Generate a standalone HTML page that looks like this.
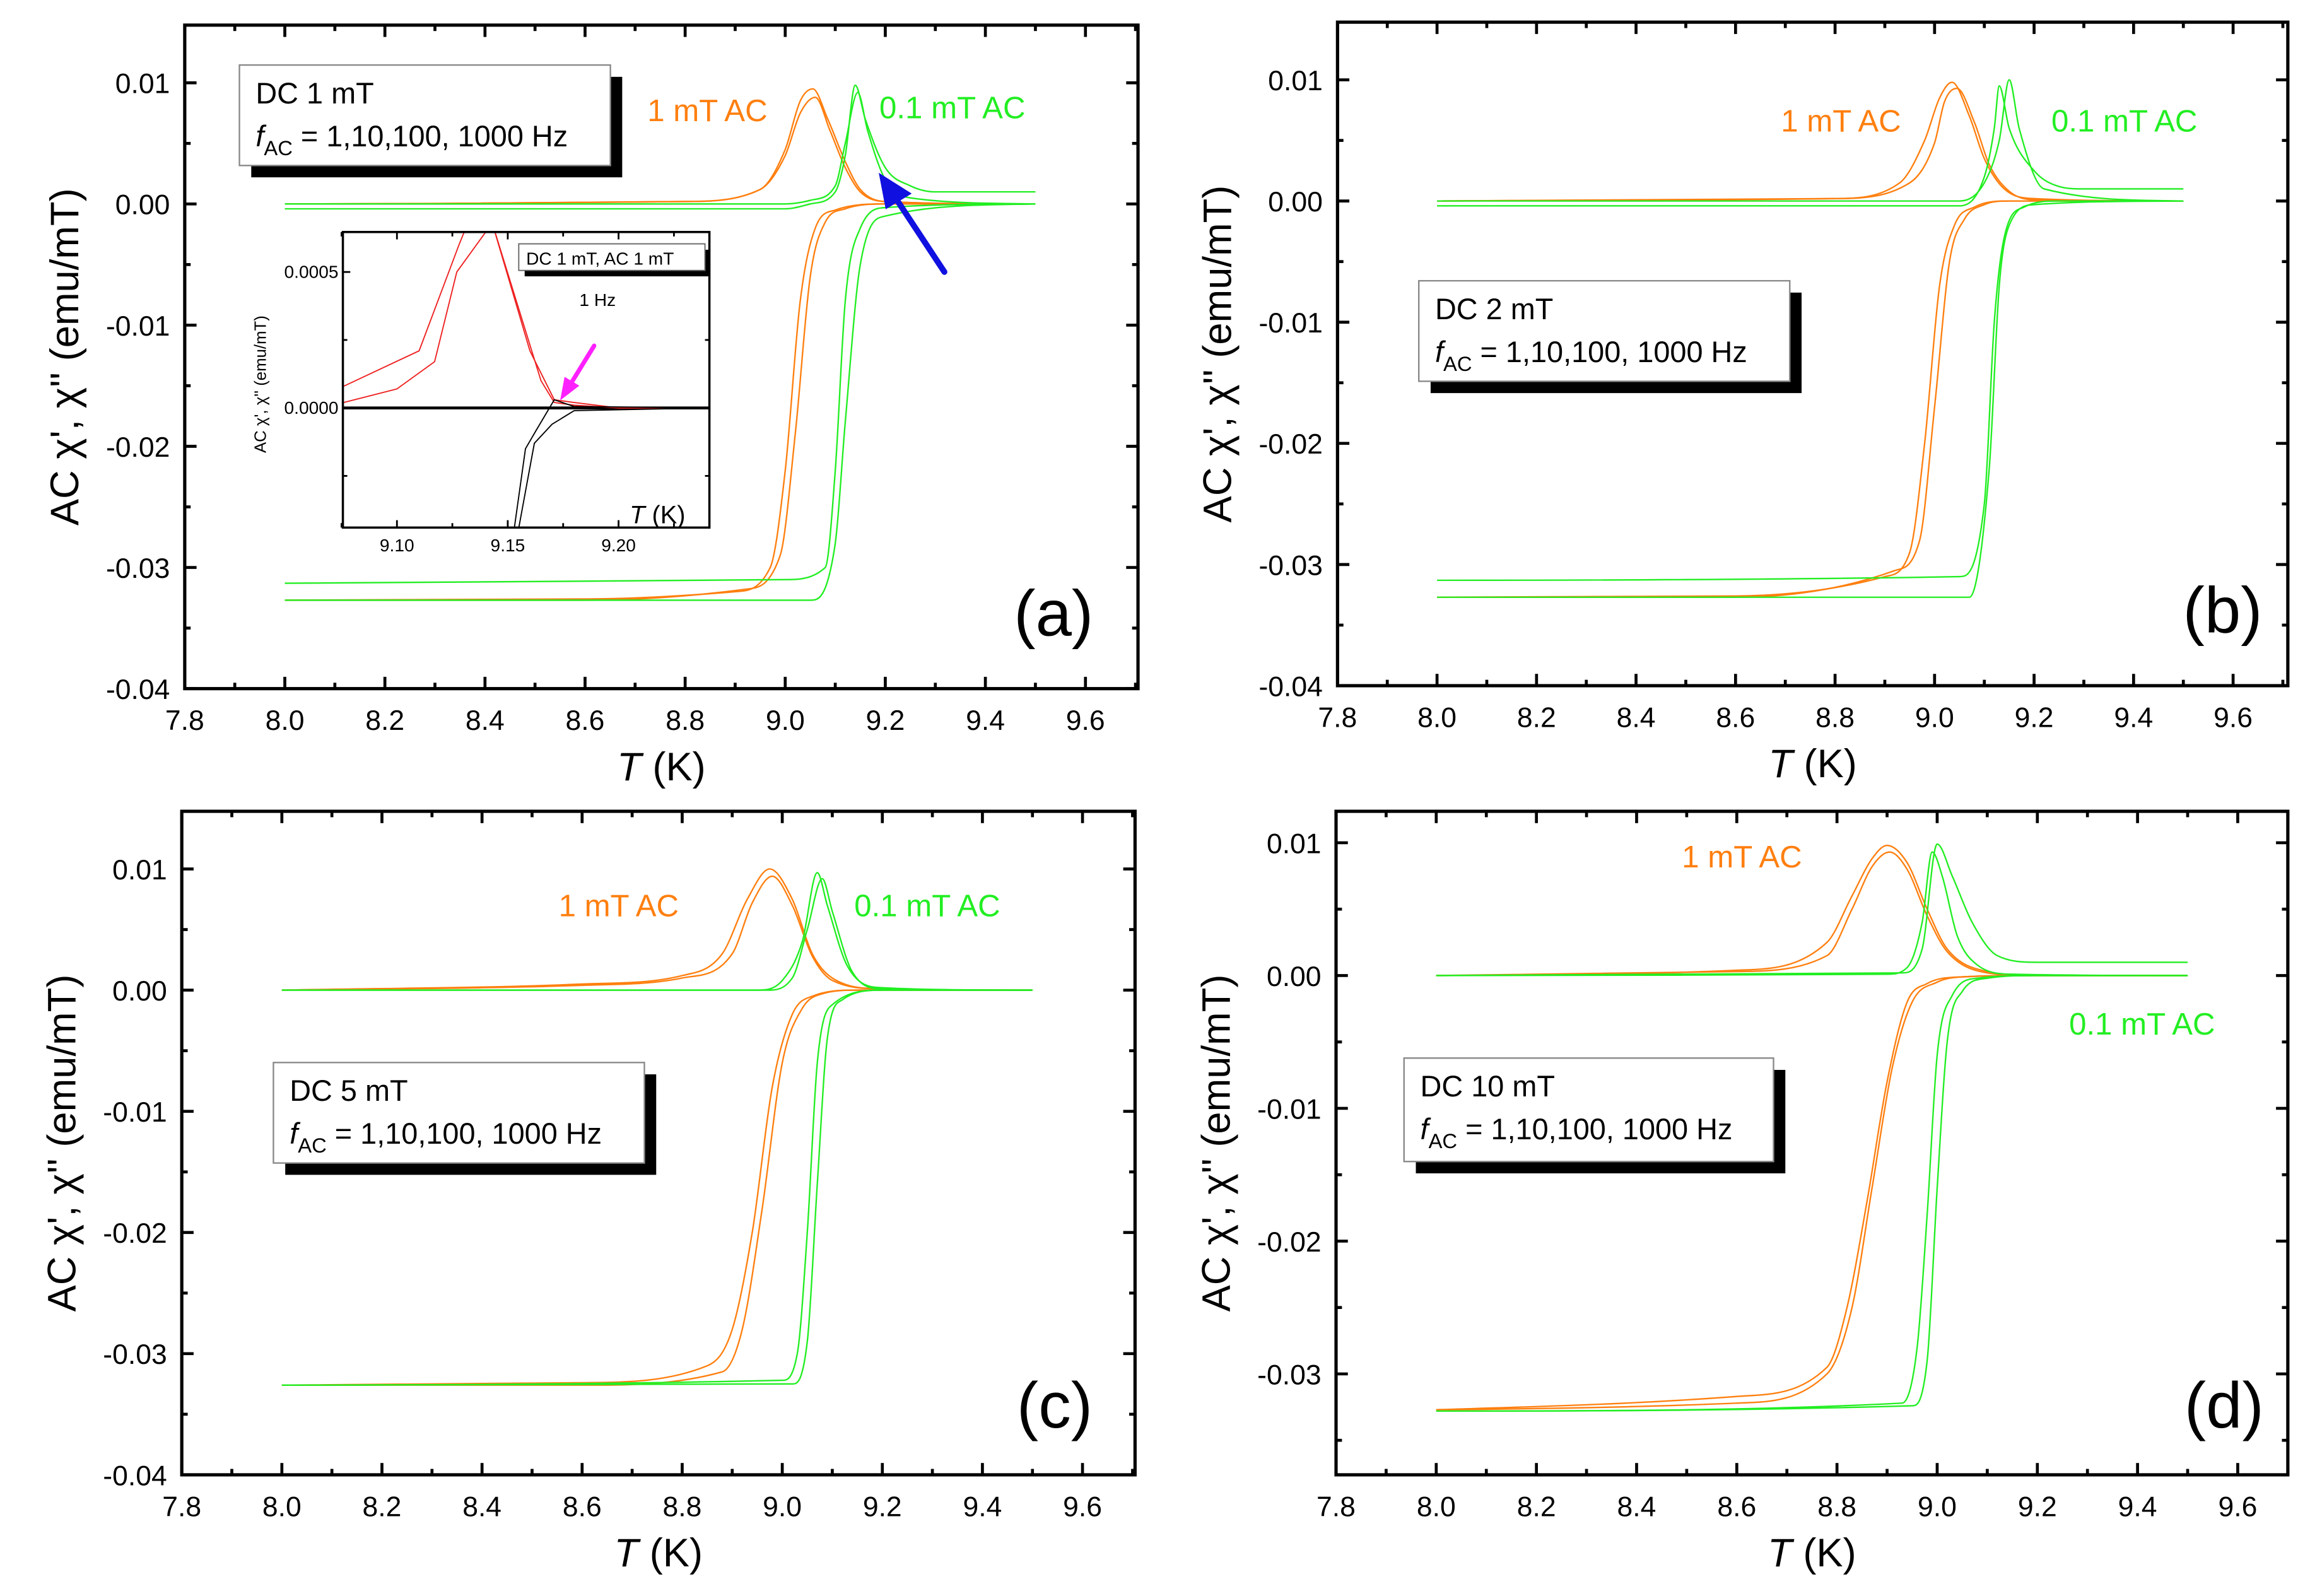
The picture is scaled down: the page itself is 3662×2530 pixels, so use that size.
<!DOCTYPE html>
<html><head><meta charset="utf-8"><style>
html,body{margin:0;padding:0;background:#fff}
svg{display:block}
text{font-family:"Liberation Sans",Arial,sans-serif}
</style></head><body>
<svg id="fig" width="3662" height="2530" viewBox="0 0 1563 1080" preserveAspectRatio="none" xmlns="http://www.w3.org/2000/svg"></svg>
<script>
// ---------- data ----------
const a_op_T1=[8.0,8.8,8.95,9.0,9.03,9.06,9.09,9.12,9.15,9.2,9.5];
const a_op_Y1=[0,0.0002,0.0012,0.004,0.0075,0.0088,0.006,0.003,0.001,0.0002,0];
const a_op_T2=[8.0,8.8,8.95,9.0,9.03,9.055,9.085,9.12,9.15,9.2,9.5];
const a_op_Y2=[0,0.0002,0.0012,0.0045,0.0085,0.0095,0.007,0.0035,0.0012,0.0002,0];
const a_gp_T1=[8.0,9.0,9.05,9.1,9.12,9.14,9.16,9.2,9.25,9.3,9.5];
const a_gp_Y1=[-0.0004,-0.0004,0.0,0.001,0.004,0.0098,0.007,0.003,0.0015,0.001,0.001];
const a_gp_T2=[8.0,9.0,9.05,9.1,9.12,9.145,9.165,9.2,9.25,9.5];
const a_gp_Y2=[0,0,0.0003,0.0015,0.005,0.0092,0.006,0.002,0.0005,0];
const a_os_T1=[8.0,8.6,8.9,8.97,9.0,9.03,9.06,9.1,9.2,9.5];
const a_os_Y1=[-0.0327,-0.0326,-0.032,-0.030,-0.022,-0.008,-0.002,-0.0005,0,0];
const a_os_T2=[8.0,8.6,8.92,8.99,9.02,9.05,9.08,9.12,9.2,9.5];
const a_os_Y2=[-0.0327,-0.0327,-0.0318,-0.029,-0.019,-0.006,-0.0015,-0.0004,0,0];
const a_gs_T1=[8.0,9.0,9.08,9.1,9.12,9.15,9.2,9.5];
const a_gs_Y1=[-0.0313,-0.031,-0.030,-0.022,-0.008,-0.002,-0.0003,0];
const a_gs_T2=[8.0,9.05,9.1,9.12,9.15,9.2,9.5];
const a_gs_Y2=[-0.0327,-0.0327,-0.028,-0.018,-0.005,-0.001,0];
const b_op_T1=[8.0,8.8,8.93,8.98,9.01,9.035,9.07,9.1,9.14,9.2,9.5];
const b_op_Y1=[0,0.0002,0.0015,0.005,0.0085,0.0098,0.007,0.0035,0.001,0.0002,0];
const b_op_T2=[8.0,8.8,8.95,9.0,9.02,9.045,9.08,9.11,9.15,9.2,9.5];
const b_op_Y2=[0,0.0002,0.0015,0.0048,0.0082,0.0093,0.0065,0.003,0.0008,0.0001,0];
const b_gp_T1=[8.0,9.05,9.1,9.12,9.13,9.15,9.2,9.25,9.3,9.5];
const b_gp_Y1=[-0.0004,-0.0004,0.002,0.006,0.0095,0.006,0.0025,0.0012,0.001,0.001];
const b_gp_T2=[8.0,9.05,9.1,9.13,9.15,9.17,9.22,9.5];
const b_gp_Y2=[0,0,0.0015,0.005,0.0100,0.006,0.001,0];
const b_os_T1=[8.0,8.6,8.9,8.95,8.98,9.01,9.04,9.08,9.15,9.5];
const b_os_Y1=[-0.0327,-0.0326,-0.031,-0.029,-0.020,-0.007,-0.002,-0.0005,0,0];
const b_os_T2=[8.0,8.6,8.92,8.97,9.0,9.03,9.06,9.1,9.15,9.5];
const b_os_Y2=[-0.0327,-0.0327,-0.0305,-0.028,-0.017,-0.005,-0.0015,-0.0003,0,0];
const b_gs_T1=[8.0,9.05,9.1,9.12,9.14,9.18,9.25,9.5];
const b_gs_Y1=[-0.0313,-0.031,-0.025,-0.010,-0.003,-0.0005,0,0];
const b_gs_T2=[8.0,9.07,9.11,9.13,9.15,9.2,9.5];
const b_gs_Y2=[-0.0327,-0.0327,-0.022,-0.007,-0.002,-0.0003,0];
const c_op_T1=[8.0,8.6,8.8,8.88,8.93,8.975,9.02,9.06,9.1,9.2,9.5];
const c_op_Y1=[0,0.0005,0.0012,0.003,0.0075,0.0100,0.0075,0.003,0.001,0.0001,0];
const c_op_T2=[8.0,8.6,8.8,8.9,8.94,8.98,9.02,9.06,9.1,9.2,9.5];
const c_op_Y2=[0,0.0004,0.001,0.003,0.0072,0.0094,0.007,0.0028,0.0008,0.0001,0];
const c_gp_T1=[8.0,8.95,9.0,9.04,9.07,9.09,9.13,9.2,9.5];
const c_gp_Y1=[0,0,0.0008,0.004,0.0097,0.007,0.002,0.0002,0];
const c_gp_T2=[8.0,8.97,9.02,9.05,9.08,9.1,9.14,9.2,9.5];
const c_gp_Y2=[0,0,0.001,0.005,0.0092,0.0065,0.0015,0.0001,0];
const c_os_T1=[8.0,8.6,8.85,8.9,8.94,8.98,9.02,9.06,9.15,9.5];
const c_os_Y1=[-0.0326,-0.0324,-0.031,-0.028,-0.020,-0.008,-0.002,-0.0005,0,0];
const c_os_T2=[8.0,8.6,8.88,8.92,8.96,9.0,9.04,9.08,9.15,9.5];
const c_os_Y2=[-0.0326,-0.0326,-0.0315,-0.028,-0.018,-0.006,-0.0015,-0.0003,0,0];
const c_gs_T1=[8.0,9.0,9.03,9.05,9.07,9.1,9.2,9.5];
const c_gs_Y1=[-0.0326,-0.0322,-0.030,-0.020,-0.006,-0.0012,0,0];
const c_gs_T2=[8.0,9.02,9.05,9.07,9.09,9.12,9.2,9.5];
const c_gs_Y2=[-0.0326,-0.0325,-0.029,-0.016,-0.004,-0.0008,0,0];
const d_op_T1=[8.0,8.6,8.78,8.83,8.87,8.9,8.94,8.98,9.02,9.1,9.2,9.5];
const d_op_Y1=[0,0.0004,0.0025,0.006,0.0088,0.0098,0.0085,0.005,0.002,0.0003,0,0];
const d_op_T2=[8.0,8.6,8.78,8.83,8.87,8.905,8.94,8.98,9.02,9.1,9.2,9.5];
const d_op_Y2=[0,0.0003,0.0015,0.005,0.0082,0.0093,0.008,0.0045,0.0018,0.0002,0,0];
const d_gp_T1=[8.0,8.9,8.94,8.97,8.99,9.01,9.04,9.08,9.15,9.5];
const d_gp_Y1=[0,0.0001,0.0006,0.004,0.0093,0.0075,0.003,0.0008,0.0001,0];
const d_gp_T2=[8.0,8.93,8.97,9.0,9.03,9.07,9.12,9.2,9.5];
const d_gp_Y2=[0,0.0002,0.002,0.0099,0.0075,0.004,0.0015,0.001,0.001];
const d_os_T1=[8.0,8.6,8.78,8.82,8.86,8.9,8.94,8.98,9.05,9.2,9.5];
const d_os_Y1=[-0.0327,-0.0317,-0.0295,-0.025,-0.017,-0.008,-0.002,-0.0006,-0.0001,0,0];
const d_os_T2=[8.0,8.6,8.78,8.83,8.87,8.91,8.95,9.0,9.05,9.2,9.5];
const d_os_Y2=[-0.0327,-0.0322,-0.030,-0.025,-0.016,-0.007,-0.002,-0.0005,-0.0001,0,0];
const d_gs_T1=[8.0,8.93,8.96,8.98,9.0,9.03,9.08,9.2,9.5];
const d_gs_Y1=[-0.0328,-0.0322,-0.028,-0.018,-0.006,-0.0015,-0.0002,0,0];
const d_gs_T2=[8.0,8.95,8.98,9.0,9.02,9.05,9.1,9.2,9.5];
const d_gs_Y2=[-0.0328,-0.0324,-0.029,-0.016,-0.005,-0.0012,-0.0002,0,0];
const in_r_T1=[9.076,9.1,9.117,9.127,9.143,9.16,9.171,9.18,9.2,9.24];
const in_r_Y1=[0.00002,0.00007,0.00017,0.0005,0.00068,0.00021,0.00003,0.00002,0.0,0];
const in_r_T2=[9.076,9.11,9.128,9.138,9.143,9.165,9.171,9.18,9.2,9.24];
const in_r_Y2=[0.00008,0.00021,0.0006,0.0008,0.00068,0.0001,0.00002,0.00001,0,0];
const in_k_T1=[9.153,9.158,9.163,9.171,9.18,9.24];
const in_k_Y1=[-0.00044,-0.00015,-0.00008,0.00003,0.000005,0];
const in_k_T2=[9.155,9.162,9.17,9.18,9.24];
const in_k_Y2=[-0.00044,-0.00013,-0.00006,-0.00001,0];
const xTicks=[7.8,8.0,8.2,8.4,8.6,8.8,9.0,9.2,9.4,9.6];
const xTickLabels=["7.8","8.0","8.2","8.4","8.6","8.8","9.0","9.2","9.4","9.6"];
const yTicks=[0.01,0.0,-0.01,-0.02,-0.03,-0.04];
const yTickLabels=["0.01","0.00","-0.01","-0.02","-0.03","-0.04"];
const inXTicks=[9.10,9.15,9.20];
const inXLabels=["9.10","9.15","9.20"];
const inYTicks=[0.0005,0.0];
const inYLabels=["0.0005","0.0000"];

// ---------- drawing ----------
const NS="http://www.w3.org/2000/svg";
const svg=document.getElementById('fig');
function el(tag,attrs,parent,txt){const e=document.createElementNS(NS,tag);for(const k in attrs)e.setAttribute(k,attrs[k]);if(txt!==undefined)e.textContent=txt;(parent||svg).appendChild(e);return e;}
const OR="#ff7f0f",GR="#22ee22";
const panels=[
 {id:'a',L:125,R:770,T:17,B:466,x0:7.8,x1:9.705,y0:-0.04,y1:0.01476,tag:"(a)",tagX:686,tagY:430,
  box:[162,44,251,68],dc:"DC 1 mT",o:[438,82],g:[595,80]},
 {id:'b',L:905,R:1548,T:15,B:464,x0:7.8,x1:9.71,y0:-0.04,y1:0.01476,tag:"(b)",tagX:1477,tagY:428,
  box:[960,190,251,68],dc:"DC 2 mT",o:[1205,89],g:[1388,89]},
 {id:'c',L:123,R:768,T:549,B:998,x0:7.8,x1:9.705,y0:-0.04,y1:0.01476,tag:"(c)",tagX:688,tagY:966,
  box:[185,719,251,68],dc:"DC 5 mT",o:[378,620],g:[578,620]},
 {id:'d',L:904,R:1548,T:549,B:998,x0:7.8,x1:9.70,y0:-0.0376,y1:0.01237,tag:"(d)",tagX:1478,tagY:966,
  box:[950,716,250,70],dc:"DC 10 mT",o:[1138,587],g:[1400,700]}
];
const series={
 a:[[a_op_T1,a_op_Y1,OR],[a_op_T2,a_op_Y2,OR],[a_os_T1,a_os_Y1,OR],[a_os_T2,a_os_Y2,OR],[a_gp_T1,a_gp_Y1,GR],[a_gp_T2,a_gp_Y2,GR],[a_gs_T1,a_gs_Y1,GR],[a_gs_T2,a_gs_Y2,GR]],
 b:[[b_op_T1,b_op_Y1,OR],[b_op_T2,b_op_Y2,OR],[b_os_T1,b_os_Y1,OR],[b_os_T2,b_os_Y2,OR],[b_gp_T1,b_gp_Y1,GR],[b_gp_T2,b_gp_Y2,GR],[b_gs_T1,b_gs_Y1,GR],[b_gs_T2,b_gs_Y2,GR]],
 c:[[c_op_T1,c_op_Y1,OR],[c_op_T2,c_op_Y2,OR],[c_os_T1,c_os_Y1,OR],[c_os_T2,c_os_Y2,OR],[c_gp_T1,c_gp_Y1,GR],[c_gp_T2,c_gp_Y2,GR],[c_gs_T1,c_gs_Y1,GR],[c_gs_T2,c_gs_Y2,GR]],
 d:[[d_op_T1,d_op_Y1,OR],[d_op_T2,d_op_Y2,OR],[d_os_T1,d_os_Y1,OR],[d_os_T2,d_os_Y2,OR],[d_gp_T1,d_gp_Y1,GR],[d_gp_T2,d_gp_Y2,GR],[d_gs_T1,d_gs_Y1,GR],[d_gs_T2,d_gs_Y2,GR]]
};
function pathFrom(T,Y,sx,sy){return T.map((t,i)=>(i?'L':'M')+sx(t).toFixed(2)+','+sy(Y[i]).toFixed(2)).join(' ');}
// monotone cubic (Fritsch-Carlson) smooth path
function smoothPath(T,Y,sx,sy){
 const X=T.map(sx),P=Y.map(sy),n=X.length;
 if(n<3)return pathFrom(T,Y,sx,sy);
 const d=[],m=new Array(n);
 for(let i=0;i<n-1;i++)d.push((P[i+1]-P[i])/(X[i+1]-X[i]));
 m[0]=d[0];m[n-1]=d[n-2];
 for(let i=1;i<n-1;i++){m[i]=(d[i-1]*d[i]<=0)?0:(d[i-1]+d[i])/2;}
 for(let i=0;i<n-1;i++){if(d[i]===0){m[i]=0;m[i+1]=0;continue;}
  const a=m[i]/d[i],b=m[i+1]/d[i],s=a*a+b*b;if(s>9){const t=3/Math.sqrt(s);m[i]=t*a*d[i];m[i+1]=t*b*d[i];}}
 let s='M'+X[0].toFixed(2)+','+P[0].toFixed(2);
 for(let i=0;i<n-1;i++){const h=(X[i+1]-X[i])/3;
  s+=' C'+(X[i]+h).toFixed(2)+','+(P[i]+m[i]*h).toFixed(2)+' '+(X[i+1]-h).toFixed(2)+','+(P[i+1]-m[i+1]*h).toFixed(2)+' '+X[i+1].toFixed(2)+','+P[i+1].toFixed(2);}
 return s;
}

panels.forEach(p=>{
 const g=el('g',{});
 
 
 const sx=v=>p.L+(v-p.x0)/(p.x1-p.x0)*(p.R-p.L);
 const sy=v=>p.B-(v-p.y0)/(p.y1-p.y0)*(p.B-p.T);
 const cg=el('g',{},g);
 series[p.id].forEach((s,i)=>{
  const path=el('path',{d:smoothPath(s[0],s[1],sx,sy),fill:'none',stroke:s[2],'stroke-width':1},cg);
  
  
 });
 for(let v=7.8;v<=9.71;v+=0.1){
  const x=sx(v);const major=Math.abs(Math.round(v*10)%2)===0;const len=major?8:4;
  el('line',{x1:x,y1:p.B,x2:x,y2:p.B-len,stroke:'#000','stroke-width':2},g);
  el('line',{x1:x,y1:p.T,x2:x,y2:p.T+len,stroke:'#000','stroke-width':2},g);
 }
 for(let k=-8;k<=2;k++){const v=k*0.005;if(v<p.y0-1e-9||v>p.y1)continue;const y=sy(v);const len=(k%2===0)?8:4;
  el('line',{x1:p.L,y1:y,x2:p.L+len,y2:y,stroke:'#000','stroke-width':2},g);
  el('line',{x1:p.R,y1:y,x2:p.R-len,y2:y,stroke:'#000','stroke-width':2},g);}
 const frame=el('rect',{x:p.L,y:p.T,width:p.R-p.L,height:p.B-p.T,fill:'none',stroke:'#000','stroke-width':2.2},g);
 
 
 xTicks.forEach((v,i)=>{const t=el('text',{x:sx(v),y:p.B+28,'font-size':19,'text-anchor':'middle'},g,xTickLabels[i]);
  });
 yTicks.forEach((v,i)=>{if(v<p.y0-1e-9)return;const t=el('text',{x:p.L-10,y:sy(v)+7,'font-size':19,'text-anchor':'end'},g,yTickLabels[i]);
  });
 const xt=el('text',{x:(p.L+p.R)/2,y:p.B+62,'font-size':27,'text-anchor':'middle'},g);
 
 el('tspan',{'font-style':'italic'},xt,'T');el('tspan',{},xt,' (K)');
 const yc=(p.T+p.B)/2;
 const yt=el('text',{x:p.L-72,y:yc,'font-size':27,'text-anchor':'middle',transform:`rotate(-90 ${p.L-72} ${yc})`},g,"AC \u03C7', \u03C7'' (emu/mT)");
 
 const [bx,by,bw,bh]=p.box;
 const sh=el('rect',{x:bx+8,y:by+8,width:bw,height:bh,fill:'#000'},g);
 
 const bb=el('rect',{x:bx,y:by,width:bw,height:bh,fill:'#fff',stroke:'#888','stroke-width':1},g);
 
 const t1=el('text',{x:bx+11,y:by+26,'font-size':20},g,p.dc);
 
 const t2=el('text',{x:bx+11,y:by+55,'font-size':20},g);
 
 el('tspan',{'font-style':'italic'},t2,'f');el('tspan',{dy:6,'font-size':14},t2,'AC');el('tspan',{dy:-6},t2,' = 1,10,100, 1000 Hz');
 const ol=el('text',{x:p.o[0],y:p.o[1],'font-size':21,fill:OR},g,'1 mT AC');
 
 const gl=el('text',{x:p.g[0],y:p.g[1],'font-size':21,fill:GR},g,'0.1 mT AC');
 
 const tg=el('text',{x:p.tagX,y:p.tagY,'font-size':44},g,p.tag);
 
});

const ba=el('g',{});


el('line',{x1:639,y1:184,x2:606,y2:134,stroke:'#1010e0','stroke-width':4,'stroke-linecap':'round'},ba);
el('polygon',{points:'596,119 615,131 600,140',fill:'#1010e0',stroke:'#1010e0','stroke-width':2},ba);

const ins={L:232,R:480,T:157,B:357,x0:9.0756,x1:9.241,y0:-0.00044,y1:0.000647};
const ig=el('g',{});


const isx=v=>ins.L+(v-ins.x0)/(ins.x1-ins.x0)*(ins.R-ins.L);
const isy=v=>ins.B-(v-ins.y0)/(ins.y1-ins.y0)*(ins.B-ins.T);
el('rect',{x:ins.L,y:ins.T,width:ins.R-ins.L,height:ins.B-ins.T,fill:'#fff'},ig);
el('clipPath',{id:'insclip'},ig);
el('rect',{x:ins.L,y:ins.T,width:ins.R-ins.L,height:ins.B-ins.T},document.getElementById('insclip'));
const icg=el('g',{'clip-path':'url(#insclip)'},ig);
el('line',{x1:ins.L,y1:isy(0),x2:ins.R,y2:isy(0),stroke:'#000','stroke-width':2},icg);
[[in_r_T1,in_r_Y1,'#ee2020'],[in_r_T2,in_r_Y2,'#ee2020'],[in_k_T1,in_k_Y1,'#000'],[in_k_T2,in_k_Y2,'#000']].forEach((s,i)=>{
 const pth=el('path',{d:pathFrom(s[0],s[1],isx,isy),fill:'none',stroke:s[2],'stroke-width':0.8},icg);
 
 
});
for(let v=9.075;v<=9.241;v+=0.025){const x=isx(v);const major=Math.abs(Math.round(v*1000)%50)<1;const len=major?5:3;
 el('line',{x1:x,y1:ins.B,x2:x,y2:ins.B-len,stroke:'#000','stroke-width':1.2},ig);
 el('line',{x1:x,y1:ins.T,x2:x,y2:ins.T+len,stroke:'#000','stroke-width':1.2},ig);}
for(let k=-1;k<=2;k++){const y=isy(k*0.00025);const len=(k%2===0)?5:3;
 el('line',{x1:ins.L,y1:y,x2:ins.L+len,y2:y,stroke:'#000','stroke-width':1.2},ig);
 el('line',{x1:ins.R,y1:y,x2:ins.R-len,y2:y,stroke:'#000','stroke-width':1.2},ig);}
el('rect',{x:ins.L,y:ins.T,width:ins.R-ins.L,height:ins.B-ins.T,fill:'none',stroke:'#000','stroke-width':1.5},ig);
inXTicks.forEach((v,i)=>{const t=el('text',{x:isx(v),y:ins.B+16,'font-size':12,'text-anchor':'middle'},ig,inXLabels[i]);
 });
inYTicks.forEach((v,i)=>{const t=el('text',{x:ins.L-3,y:isy(v)+4,'font-size':12,'text-anchor':'end'},ig,inYLabels[i]);
 });
const iyt=el('text',{x:180,y:260,'font-size':11,'text-anchor':'middle',transform:'rotate(-90 180 260)'},ig,"AC \u03C7', \u03C7'' (emu/mT)");

const ixt=el('text',{x:426,y:354,'font-size':17},ig);

el('tspan',{'font-style':'italic'},ixt,'T');el('tspan',{},ixt,' (K)');
el('rect',{x:355,y:169,width:125,height:18,fill:'#000'},ig);
const ilb=el('rect',{x:351,y:165,width:126,height:18,fill:'#fff',stroke:'#666','stroke-width':0.8},ig);

const il=el('text',{x:356,y:179,'font-size':12},ig,'DC 1 mT, AC 1 mT');

const ihz=el('text',{x:392,y:207,'font-size':12},ig,'1 Hz');

const ma=el('g',{},ig);


el('line',{x1:402,y1:234,x2:386,y2:260,stroke:'#ff20ff','stroke-width':3,'stroke-linecap':'round'},ma);
el('polygon',{points:'379,271 382,255 392,261',fill:'#ff20ff'},ma);
</script>
</body></html>
